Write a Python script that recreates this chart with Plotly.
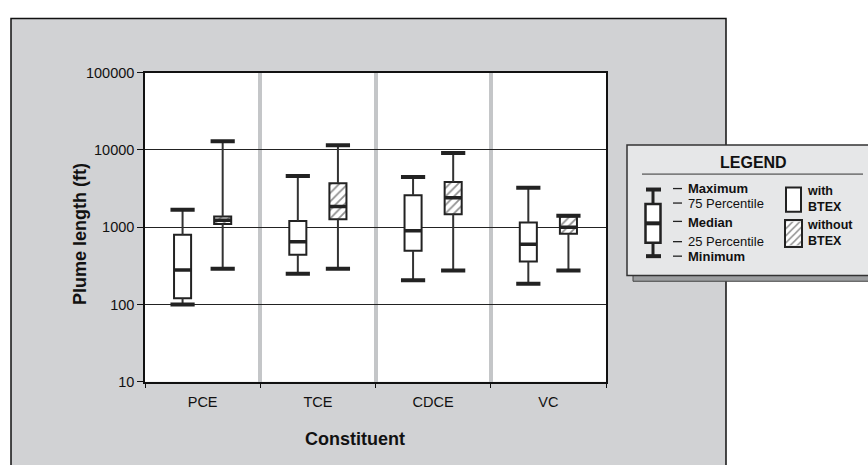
import plotly.graph_objects as go

# Plume length statistics (ft) per constituent
categories = ["PCE", "TCE", "CDCE", "VC"]

with_min = [100, 250, 205, 185]
with_q1 = [120, 440, 495, 360]
with_med = [280, 650, 900, 600]
with_q3 = [800, 1200, 2600, 1150]
with_max = [1680, 4600, 4450, 3250]

without_min = [290, 290, 275, 275]
without_q1 = [1100, 1270, 1470, 825]
without_med = [1230, 1850, 2400, 1000]
without_q3 = [1380, 3700, 3850, 1380]
without_max = [13000, 11500, 9150, 1410]

y_ticks = [10, 100, 1000, 10000, 100000]
y_tick_text = ["10", "100", "1000", "10000", "100000"]

W, H = 868, 465
FONT = "Liberation Sans, Arial, sans-serif"
INK = "#222222"

# plot area in pixels
PX0, PX1, PY0, PY1 = 145, 606, 67, 387


def px(x):
    return x / W


def py(y):
    return 1 - y / H


OFF = 0.174   # half distance between paired boxes (category units)
BOX_W = 0.148
CAP_W = 0.21


def whisker_xy(xs, lo, q1, q3, hi):
    x, y = [], []
    for xi, a, b, c, d in zip(xs, lo, q1, q3, hi):
        x += [xi, xi, None, xi, xi, None]
        y += [a, b, None, c, d, None]
    return x, y


def hline_xy(xs, vals, w):
    x, y = [], []
    for xi, v in zip(xs, vals):
        x += [xi - w / 2, xi + w / 2, None]
        y += [v, v, None]
    return x, y


fig = go.Figure()

groups = [
    (-OFF, with_min, with_q1, with_med, with_q3, with_max, ""),
    (OFF, without_min, without_q1, without_med, without_q3, without_max, "/"),
]

for off, lo, q1, med, q3, hi, pat in groups:
    xs = [i + 0.5 + off for i in range(len(categories))]
    wx, wy = whisker_xy(xs, lo, q1, q3, hi)
    fig.add_trace(go.Scatter(x=wx, y=wy, mode="lines",
                             line=dict(color="#333333", width=2),
                             hoverinfo="skip", showlegend=False))
    fig.add_trace(go.Bar(
        x=xs, y=[c - b for b, c in zip(q1, q3)], base=q1, width=BOX_W,
        marker=dict(color="white", line=dict(color=INK, width=2),
                    pattern=dict(shape=pat, fgcolor=INK, bgcolor="white",
                                 size=6, solidity=0.3)),
        showlegend=False, hoverinfo="skip"))
    mx, my = hline_xy(xs, med, BOX_W)
    fig.add_trace(go.Scatter(x=mx, y=my, mode="lines",
                             line=dict(color=INK, width=3.5),
                             hoverinfo="skip", showlegend=False))
    cx, cy = hline_xy(xs + xs, lo + hi, CAP_W)
    fig.add_trace(go.Scatter(x=cx, y=cy, mode="lines",
                             line=dict(color=INK, width=4),
                             hoverinfo="skip", showlegend=False))

# hatched swatch for the legend panel
fig.add_trace(go.Bar(x=[0], y=[1], width=1, xaxis="x2", yaxis="y2",
                     marker=dict(color="white", line=dict(width=0),
                                 pattern=dict(shape="/", fgcolor=INK, bgcolor="white",
                                              size=5, solidity=0.3)),
                     showlegend=False, hoverinfo="skip"))

shapes = []
# grey panel
shapes.append(dict(type="rect", xref="paper", yref="paper", layer="below",
                   x0=px(11), x1=px(726), y0=-0.05, y1=py(11),
                   fillcolor="#d1d2d4", line=dict(color="#111111", width=1.5)))
# white plotting area
shapes.append(dict(type="rect", xref="paper", yref="paper", layer="below",
                   x0=px(PX0), x1=px(PX1), y0=py(PY1), y1=py(PY0),
                   fillcolor="white", line=dict(width=0)))
# legend panel with shadow
shapes.append(dict(type="rect", xref="paper", yref="paper", layer="below",
                   x0=px(633), x1=px(890), y0=py(283), y1=py(148),
                   fillcolor="#9c9ea0", line=dict(color="#444444", width=1)))
shapes.append(dict(type="rect", xref="paper", yref="paper", layer="below",
                   x0=px(627), x1=px(885), y0=py(277), y1=py(142),
                   fillcolor="#e6e7e8", line=dict(color="#333333", width=1.5)))
shapes.append(dict(type="line", xref="paper", yref="paper",
                   x0=px(642), x1=px(863), y0=py(172), y1=py(172),
                   line=dict(color="#333333", width=1)))
# legend box-and-whisker icon
shapes.append(dict(type="line", xref="paper", yref="paper",
                   x0=px(653), x1=px(653), y0=py(188), y1=py(257),
                   line=dict(color=INK, width=3)))
for yy in (188, 257):
    shapes.append(dict(type="line", xref="paper", yref="paper",
                       x0=px(646), x1=px(661), y0=py(yy), y1=py(yy),
                       line=dict(color=INK, width=4)))
shapes.append(dict(type="rect", xref="paper", yref="paper",
                   x0=px(645.5), x1=px(660.5), y0=py(243), y1=py(203),
                   fillcolor="white", line=dict(color=INK, width=2.5)))
shapes.append(dict(type="line", xref="paper", yref="paper",
                   x0=px(645.5), x1=px(660.5), y0=py(223), y1=py(223),
                   line=dict(color=INK, width=4)))
for yy in (187, 202, 221, 242, 257):
    shapes.append(dict(type="line", xref="paper", yref="paper",
                       x0=px(673), x1=px(682), y0=py(yy), y1=py(yy),
                       line=dict(color=INK, width=1.3)))
# white swatch
shapes.append(dict(type="rect", xref="paper", yref="paper",
                   x0=px(786), x1=px(801), y0=py(211), y1=py(186),
                   fillcolor="white", line=dict(color=INK, width=2)))

annotations = []


def note(text, x, y, size=13, bold=False, anchor="left", angle=0):
    annotations.append(dict(
        text=f"<b>{text}</b>" if bold else text, xref="paper", yref="paper",
        x=px(x), y=py(y), xanchor=anchor, yanchor="middle", showarrow=False,
        textangle=angle, align="left", borderpad=0,
        font=dict(family=FONT, size=size, color="#111111")))


note("LEGEND", 753, 160, size=16, bold=True, anchor="center")
note("Maximum", 687, 187, bold=True)
note("75 Percentile", 687, 202)
note("Median", 687, 222, bold=True)
note("25 Percentile", 687, 242)
note("Minimum", 687, 257, bold=True)
note("with<br>BTEX", 806, 198, size=12.5, bold=True)
note("without<br>BTEX", 806, 233, size=12.5, bold=True)
note("Constituent", 355, 446, size=18, bold=True, anchor="center")
note("Plume length (ft)", 80, 234, size=18, bold=True, anchor="center", angle=-90)

fig.update_layout(
    width=W, height=H,
    margin=dict(l=0, r=0, t=0, b=0),
    paper_bgcolor="white", plot_bgcolor="white",
    barmode="overlay",
    shapes=shapes, annotations=annotations,
    font=dict(family=FONT, size=14.5, color="#111111"),
    xaxis=dict(
        domain=[px(PX0), px(PX1)], range=[0, 4],
        tickmode="array", tickvals=[i + 0.5 for i in range(len(categories))],
        ticktext=categories, ticks="", showgrid=False, zeroline=False,
        showline=True, mirror=True, linecolor="#111111", linewidth=1.5,
        ticklabelstandoff=6,
        minor=dict(tick0=0, dtick=1, ticks="outside", ticklen=5,
                   tickcolor="#111111", tickwidth=1.2,
                   showgrid=True, gridcolor="#c4c6c8", gridwidth=4),
        fixedrange=True,
    ),
    yaxis=dict(
        domain=[py(PY1), py(PY0)], type="log", range=[1, 5],
        tickmode="array", tickvals=y_ticks, ticktext=y_tick_text,
        ticks="outside", ticklen=6, tickcolor="#111111", tickwidth=1.2,
        showgrid=True, gridcolor="#222222", gridwidth=1,
        showline=True, mirror=True, linecolor="#111111", linewidth=1.5,
        zeroline=False, fixedrange=True,
    ),
    xaxis2=dict(domain=[px(786), px(801)], range=[-0.5, 0.5], visible=True,
                showticklabels=False, ticks="", showgrid=False, zeroline=False,
                showline=True, mirror=True, linecolor=INK, linewidth=2,
                anchor="y2", fixedrange=True),
    yaxis2=dict(domain=[py(246), py(221)], range=[0, 1], visible=True,
                showticklabels=False, ticks="", showgrid=False, zeroline=False,
                showline=True, mirror=True, linecolor=INK, linewidth=2,
                anchor="x2", fixedrange=True),
)

fig.write_html("out.html")
